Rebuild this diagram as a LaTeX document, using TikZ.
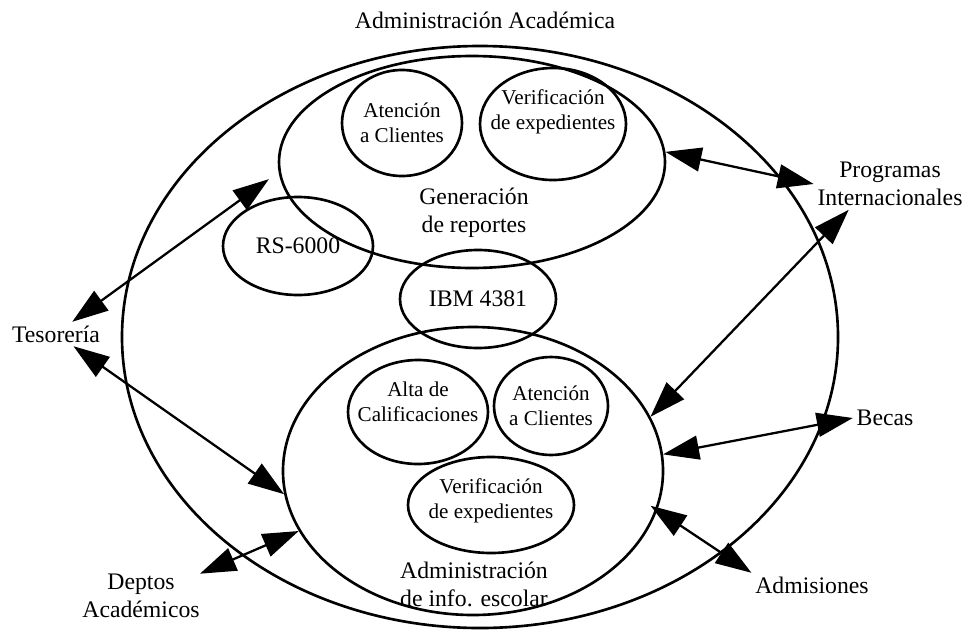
\documentclass[tikz,border=0pt]{standalone}
\usepackage{fontspec}
\setmainfont{Liberation Serif}
\usetikzlibrary{arrows.meta,shapes.geometric}

\begin{document}
\begin{tikzpicture}[x=0.2mm,y=-0.2mm,
      every node/.style={font=\fontsize{13.5}{16}\selectfont},
      oval/.style={draw,ellipse,line width=1.5pt,inner sep=0pt,align=center},
      inlbl/.style={align=center,inner sep=0pt,font=\fontsize{12}{14}\selectfont},
      lbl/.style={align=center,inner sep=2pt},
      arr/.style={{Triangle[length=7.2mm,width=4.8mm]}-{Triangle[length=7.2mm,width=4.8mm]},line width=1.3pt}]
    \useasboundingbox (0,0) rectangle (966,630);
    % big ellipses
    \node[lbl] (title) at (485,20) {Administración Académica};
    \node[oval,minimum width=143.2mm,minimum height=116.4mm] (acad) at (480,337) {};
    \node[oval,minimum width=77.2mm,minimum height=42.4mm] (gen) at (472,162) {};
    \node[oval,minimum width=76mm,minimum height=57.6mm] (esc) at (473,471) {};
    \node[lbl] (genlbl) at (474,213) {Generación\\de reportes};
    \node[lbl] (esclbl) at (474,584) {Administración\\de info. escolar};
    % small ellipses
    \node[oval,minimum width=24mm,minimum height=21.2mm,
          label={[inlbl]center:Atención\\a Clientes}] (atcA) at (402,123) {};
    \node[oval,minimum width=29.2mm,minimum height=22.4mm,
          label={[inlbl,yshift=2.4mm]center:Verificación\\de expedientes}] (verA) at (553,124) {};
    \node[oval,minimum width=30mm,minimum height=19.6mm] (rs) at (298,246) {RS-6000};
    \node[oval,minimum width=31.2mm,minimum height=19.6mm] (ibm) at (478,299) {IBM 4381};
    \node[oval,minimum width=28mm,minimum height=20.8mm,
          label={[inlbl,yshift=2mm]center:Alta de\\Calificaciones}] (alta) at (418,412) {};
    \node[oval,minimum width=22.8mm,minimum height=19.6mm,
          label={[inlbl]center:Atención\\a Clientes}] (atcB) at (551,406) {};
    \node[oval,minimum width=33.2mm,minimum height=19.2mm,
          label={[inlbl,yshift=0.8mm]center:Verificación\\de expedientes}] (verB) at (491,505) {};
    % outside parties
    \node[lbl] (tes) at (56,334) {Tesorería};
    \node[lbl] (prog) at (890,184) {Programas\\Internacionales};
    \node[lbl] (becas) at (885,418) {Becas};
    \node[lbl] (adm) at (812,585) {Admisiones};
    \node[lbl,inner sep=0pt] (deptos) at (141,596) {Deptos\\Académicos};
    % links
    \draw[arr,shorten >=2.4mm] (tes.37) -- (gen.183);
    \draw[arr] (tes.-35) -- (esc.187);
    \draw[arr] (deptos.north east) -- (esc.199);
    \draw[arr] (gen.3) -- (prog.west);
    \draw[arr] (prog.212) -- (esc.17);
    \draw[arr] (becas.west) -- (esc.5);
    \draw[arr,shorten >=-1.6mm] (adm.north west) -- (esc.-12);
  \end{tikzpicture}
\end{document}
